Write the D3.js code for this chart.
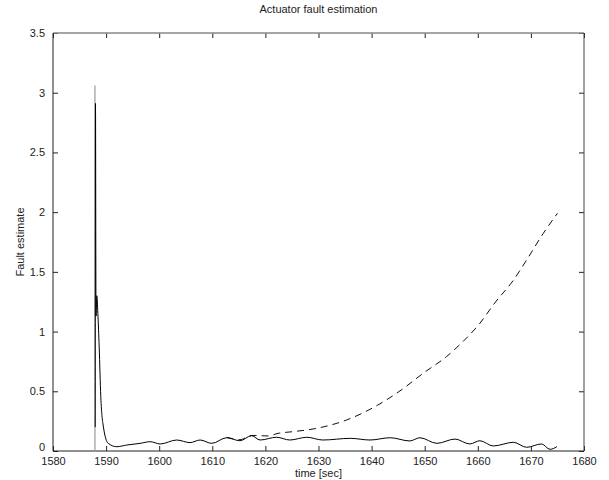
<!DOCTYPE html>
<html>
<head>
<meta charset="utf-8">
<script src="https://cdn.jsdelivr.net/npm/d3@7"></script>
<style>
  body { margin: 0; background: #fff; }
  text { font-family: "Liberation Sans", Arial, sans-serif; font-size: 11px; fill: #222; }
</style>
</head>
<body>
<div id="chart"></div>
<script>
var svgWidth = 609;
var svgHeight = 480;

var margin = { top: 33, right: 25, bottom: 29, left: 53 };
var chartWidth = svgWidth - margin.left - margin.right;
var chartHeight = svgHeight - margin.top - margin.bottom;

// tick values
var xTicks = [1580, 1590, 1600, 1610, 1620, 1630, 1640, 1650, 1660, 1670, 1680];
var yTicks = [0, 0.5, 1, 1.5, 2, 2.5, 3, 3.5];

// start-up spike (grey)
var spikeTime = [1587.9, 1587.9];
var spikeValue = [0, 3.06];

// solid estimate
var solidTime = [1587.95, 1588.0, 1588.1, 1588.25, 1588.45, 1588.7, 1589.0, 1589.5, 1590.4, 1592, 1593.9,
  1596.4, 1598.3, 1600.2, 1603.3, 1605.8, 1607.7, 1609.9, 1612.7, 1615.2, 1617.4, 1619, 1622.1,
  1624.6, 1627.8, 1630.8, 1636, 1639.7, 1643.5, 1647.2, 1649.1, 1652.3, 1655.7, 1658.5, 1660.4,
  1662.9, 1666.7, 1669.2, 1672, 1673.6, 1674.9];
var solidValue = [0.2, 2.91, 1.13, 1.30, 1.15, 0.87, 0.455, 0.2, 0.064, 0.036, 0.05,
  0.064, 0.078, 0.059, 0.092, 0.07, 0.092, 0.064, 0.111, 0.086, 0.128, 0.092, 0.115,
  0.092, 0.115, 0.092, 0.106, 0.092, 0.111, 0.084, 0.111, 0.064, 0.1, 0.059, 0.086,
  0.042, 0.073, 0.031, 0.059, 0.014, 0.036];

// dashed estimate
var dashTime = [1612.7, 1615.2, 1617.4, 1620.5, 1622.4, 1625.2, 1629.7, 1635.3, 1639.7, 1644.7,
  1650, 1654.1, 1656.6, 1660.4, 1663.2, 1666.7, 1669.2, 1672.3, 1675];
var dashValue = [0.115, 0.095, 0.13, 0.126, 0.148, 0.162, 0.19, 0.26, 0.349, 0.483,
  0.66, 0.79, 0.89, 1.07, 1.24, 1.43, 1.60, 1.82, 1.99];

var svg = d3.select("#chart")
  .append("svg")
  .attr("width", svgWidth)
  .attr("height", svgHeight);

var chartGroup = svg.append("g")
  .attr("transform", `translate(${margin.left}, ${margin.top})`);

var xScale = d3.scaleLinear().domain([1580, 1680]).range([0, chartWidth]);
var yScale = d3.scaleLinear().domain([0, 3.5]).range([chartHeight, 0]);

// axes, matlab style (ticks inside, box all round)
var tickLen = 5;
function styleAxis(g) {
  g.select(".domain").remove();
  g.selectAll(".tick line").attr("stroke", "#222");
}
chartGroup.append("g")
  .attr("transform", `translate(0, ${chartHeight})`)
  .call(d3.axisBottom(xScale).tickValues(xTicks).tickSizeInner(-tickLen).tickSizeOuter(0).tickPadding(6).tickFormat(d3.format("d")))
  .call(styleAxis);
chartGroup.append("g")
  .call(d3.axisTop(xScale).tickValues(xTicks).tickSizeInner(-tickLen).tickSizeOuter(0).tickFormat(""))
  .call(styleAxis);
var yAxisG = chartGroup.append("g")
  .call(d3.axisLeft(yScale).tickValues(yTicks).tickSizeInner(-tickLen).tickSizeOuter(0).tickPadding(8).tickFormat(d3.format("")))
  .call(styleAxis);
// lift the "0" label a little so it sits above "1580"
yAxisG.selectAll(".tick text").filter(d => d === 0).attr("dy", "-0.05em");
chartGroup.append("g")
  .attr("transform", `translate(${chartWidth}, 0)`)
  .call(d3.axisRight(yScale).tickValues(yTicks).tickSizeInner(-tickLen).tickSizeOuter(0).tickFormat(""))
  .call(styleAxis);

chartGroup.selectAll(".tick text")
  .style("font-family", "'Liberation Sans', Arial, sans-serif")
  .style("font-size", "11px")
  .attr("fill", "#222");

// box
chartGroup.append("line").attr("x1", 0).attr("x2", chartWidth).attr("y1", 0).attr("y2", 0)
  .attr("stroke", "#888").attr("stroke-width", 1.5);
chartGroup.append("line").attr("x1", chartWidth).attr("x2", chartWidth).attr("y1", 0).attr("y2", chartHeight)
  .attr("stroke", "#444");
chartGroup.append("line").attr("x1", 0).attr("x2", 0).attr("y1", 0).attr("y2", chartHeight)
  .attr("stroke", "#222");
chartGroup.append("line").attr("x1", 0).attr("x2", chartWidth).attr("y1", chartHeight).attr("y2", chartHeight)
  .attr("stroke", "#222");

var line = d3.line()
  .x(d => xScale(d[0]))
  .y(d => yScale(d[1]));

var smoothLine = d3.line()
  .curve(d3.curveMonotoneX)
  .x(d => xScale(d[0]))
  .y(d => yScale(d[1]));

chartGroup.append("path")
  .datum(d3.zip(spikeTime, spikeValue))
  .attr("d", line)
  .attr("fill", "none")
  .attr("stroke", "#999")
  .attr("stroke-width", 1.2);

chartGroup.append("path")
  .datum(d3.zip(dashTime, dashValue))
  .attr("d", smoothLine)
  .attr("fill", "none")
  .attr("stroke", "#111")
  .attr("stroke-width", 1)
  .attr("stroke-dasharray", "7,5");

chartGroup.append("path")
  .datum(d3.zip(solidTime, solidValue))
  .attr("d", smoothLine)
  .attr("fill", "none")
  .attr("stroke", "#000")
  .attr("stroke-width", 1);

// labels
svg.append("text")
  .attr("x", margin.left + chartWidth / 2)
  .attr("y", 13)
  .attr("text-anchor", "middle")
  .text("Actuator fault estimation");

svg.append("text")
  .attr("x", margin.left + chartWidth / 2)
  .attr("y", 477)
  .attr("text-anchor", "middle")
  .text("time [sec]");

svg.append("text")
  .attr("transform", `translate(24, ${margin.top + chartHeight / 2}) rotate(-90)`)
  .attr("text-anchor", "middle")
  .text("Fault estimate");
</script>
</body>
</html>
